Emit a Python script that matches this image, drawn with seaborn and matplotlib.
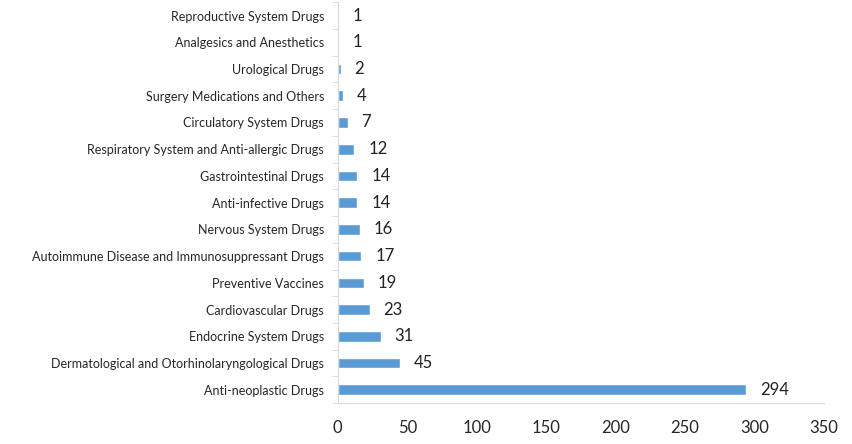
import seaborn as sns
import matplotlib.pyplot as plt
import pandas as pd

categories = [
    'Reproductive System Drugs',
    'Analgesics and Anesthetics',
    'Urological Drugs',
    'Surgery Medications and Others',
    'Circulatory System Drugs',
    'Respiratory System and Anti-allergic Drugs',
    'Gastrointestinal Drugs',
    'Anti-infective Drugs',
    'Nervous System Drugs',
    'Autoimmune Disease and Immunosuppressant Drugs',
    'Preventive Vaccines',
    'Cardiovascular Drugs',
    'Endocrine System Drugs',
    'Dermatological and Otorhinolaryngological Drugs',
    'Anti-neoplastic Drugs',
]
counts = [1, 1, 2, 4, 7, 12, 14, 14, 16, 17, 19, 23, 31, 45, 294]
xticks = [0, 50, 100, 150, 200, 250, 300, 350]

df = pd.DataFrame({'category': categories, 'count': counts})

sns.set_style('white')
plt.rcParams['font.family'] = ['Lato', 'DejaVu Sans']

fig = plt.figure(figsize=(8.53, 4.44), dpi=100)
ax = fig.add_axes([0.396, 0.092, 0.57, 0.903])

sns.barplot(data=df, y='category', x='count', color='#5B9BD5', saturation=1,
            width=0.4, orient='h', ax=ax)

# etiquetas de valor no fim de cada barra
for i, v in enumerate(counts):
    ax.annotate(str(v), (v, i), xytext=(10, 0), textcoords='offset points',
                va='center', ha='left', fontsize=12, color='#222222')

ax.set_xlim(0, 350)
ax.set_ylim(len(categories) - 0.5, -0.5)
ax.set_xticks(xticks)
ax.set_xticklabels([str(t) for t in xticks], fontsize=12)
ax.set_yticks(range(len(categories)))
ax.set_yticklabels(categories, fontsize=9)
ax.set_xlabel('')
ax.set_ylabel('')

for side in ['top', 'right']:
    ax.spines[side].set_visible(False)
for side in ['left', 'bottom']:
    ax.spines[side].set_color('#d9d9d9')
    ax.spines[side].set_linewidth(0.8)

ax.tick_params(axis='y', length=0, pad=10)
ax.tick_params(axis='x', length=4, color='#d9d9d9', pad=8)
# marcas entre categorias no eixo y
ax.set_yticks([i + 0.5 for i in range(-1, len(categories))], minor=True)
ax.tick_params(axis='y', which='minor', length=4, color='#d9d9d9', direction='out', left=True)

fig.savefig('out.png', dpi=100)
